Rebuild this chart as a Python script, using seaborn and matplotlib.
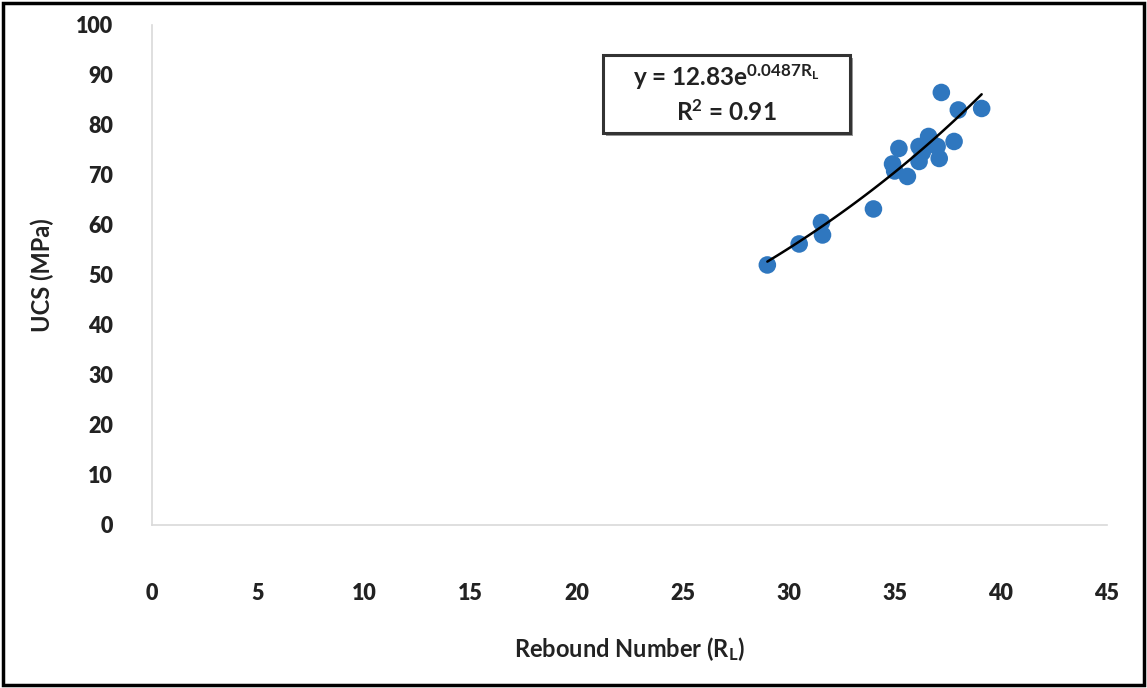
import numpy as np
import pandas as pd
import matplotlib
matplotlib.use("Agg")
import matplotlib.pyplot as plt
import seaborn as sns
from matplotlib.patches import Rectangle

rebound = [29.0, 30.5, 31.55, 31.6, 34.0, 34.9, 35.0, 35.2, 35.6, 36.15, 36.15,
           36.3, 36.6, 36.7, 37.0, 37.1, 37.2, 37.8, 38.0, 39.1]
ucs = [52.0, 56.2, 60.5, 58.0, 63.2, 72.2, 70.8, 75.3, 69.7, 75.7, 72.7,
       74.5, 77.7, 76.5, 75.7, 73.3, 86.5, 76.7, 83.0, 83.3]
fit_a = 12.83
fit_b = 0.0487
x_ticks = [0, 5, 10, 15, 20, 25, 30, 35, 40, 45]
y_ticks = [0, 10, 20, 30, 40, 50, 60, 70, 80, 90, 100]

sns.set_theme(style="white")
plt.rcParams['font.family'] = ['Lato', 'DejaVu Sans']
plt.rcParams['mathtext.fontset'] = 'custom'
plt.rcParams['mathtext.rm'] = 'Lato:bold'
plt.rcParams['mathtext.bf'] = 'Lato:bold'
plt.rcParams['mathtext.it'] = 'Lato:bold'

df = pd.DataFrame({"x": rebound, "y": ucs})
xs = np.linspace(min(rebound), max(rebound), 100)
fit = pd.DataFrame({"x": xs, "y": fit_a * np.exp(fit_b * xs)})

fig = plt.figure(figsize=(11.47, 6.88), dpi=100)
ax = fig.add_axes([0.1325, 0.237, 0.8325, 0.7267])

sns.scatterplot(data=df, x="x", y="y", ax=ax, s=160, color="#2f77bf",
                edgecolor="none", zorder=3)
sns.lineplot(data=fit, x="x", y="y", ax=ax, color="black", linewidth=1.8,
             zorder=4)

ax.set_xlim(0, 45)
ax.set_ylim(0, 100)
ax.set_xticks(x_ticks)
ax.set_yticks(y_ticks)
ax.tick_params(axis="x", length=0, pad=42, labelsize=15.5)
ax.tick_params(axis="y", length=0, pad=28, labelsize=15.5)
for lab in ax.get_xticklabels() + ax.get_yticklabels():
    lab.set_fontweight("heavy")
    lab.set_color("#222222")

for s in ["top", "right"]:
    ax.spines[s].set_visible(False)
for s in ["left", "bottom"]:
    ax.spines[s].set_color("#d9d9d9")
    ax.spines[s].set_linewidth(1.2)

ax.set_xlabel("Rebound Number (R$_\\mathregular{L}$)", fontsize=17,
              fontweight="bold", labelpad=22, color="#222222")
ax.set_ylabel("UCS (MPa)", fontsize=17, fontweight="bold", labelpad=16,
              color="#222222")

# equation box
fig.patches.append(Rectangle((606 / 1147, 1 - 136 / 688), (850 - 603) / 1147,
                             (133 - 55) / 688, transform=fig.transFigure,
                             facecolor="#999999", edgecolor="none", zorder=4))
box = Rectangle((603 / 1147, 1 - 133 / 688), (850 - 603) / 1147, (133 - 55) / 688,
                transform=fig.transFigure, facecolor="white", edgecolor="#333333",
                linewidth=2.2, zorder=5)
fig.patches.append(box)
fig.text(726 / 1147, 1 - 77 / 688,
         "y = 12.83e$^\\mathregular{0.0487R_L}$", ha="center", va="center",
         fontsize=17.5, fontweight="bold", color="#222222", zorder=6)
fig.text(726 / 1147, 1 - 112 / 688, "R$^\\mathregular{2}$ = 0.91", ha="center",
         va="center", fontsize=17.5, fontweight="bold", color="#222222", zorder=6)

# outer border
fig.patches.append(Rectangle((0.003, 0.004), 0.994, 0.992, transform=fig.transFigure,
                             facecolor="none", edgecolor="black", linewidth=2.5))

fig.savefig("out.png", dpi=100)
